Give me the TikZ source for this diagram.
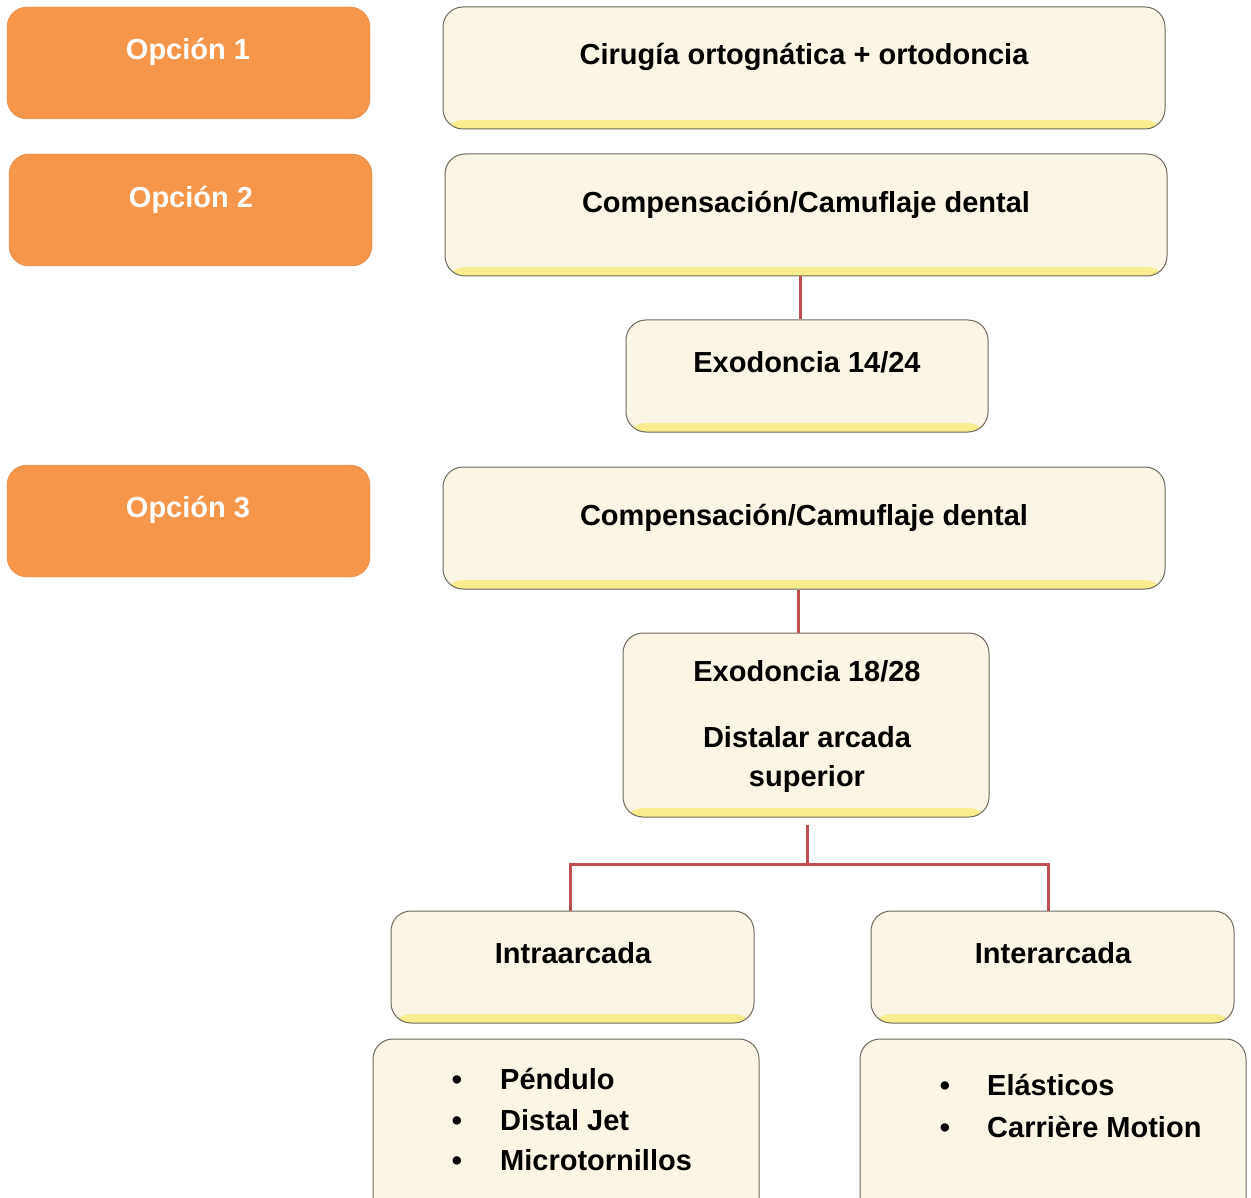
\documentclass[tikz,border=0pt]{standalone}
\usepackage{fontspec}
\setmainfont{Liberation Sans}
\definecolor{orangebox}{HTML}{F6964A}
\definecolor{cream}{HTML}{FBF5E6}
\definecolor{glow}{HTML}{F8EC8A}
\definecolor{edge}{HTML}{6E6A5E}
\definecolor{link}{HTML}{C0504D}
\tikzset{
  obox/.style={rounded corners=20pt, fill=orangebox, draw=orangebox!90!black, line width=0.4pt, inner sep=0pt},
  cbox/.style={rounded corners=20pt, fill=cream, draw=edge, line width=1pt, inner sep=0pt,
    path picture={\shade[top color=cream, bottom color=glow]
      ([yshift=9pt]path picture bounding box.south west) rectangle (path picture bounding box.south east);}},
  lbl/.style={anchor=base, inner sep=0pt, font=\bfseries\fontsize{29}{39}\selectfont, text=black},
  wlbl/.style={lbl, text=white},
  llbl/.style={lbl, anchor=base west},
  blbl/.style={lbl},
  link/.style={draw=link, line width=3pt}
}
\begin{document}
\begin{tikzpicture}[x=1pt,y=-1pt]
\useasboundingbox (0,0) rectangle (1251,1198);
\clip (0,0) rectangle (1251,1198);
% orange option boxes
\node[obox, minimum width=363pt, minimum height=112pt] (o1) at (188.5,63) {};
\node[obox, minimum width=363pt, minimum height=112pt] (o2) at (190.5,210) {};
\node[obox, minimum width=363pt, minimum height=112pt] (o3) at (188.5,521) {};
\node[wlbl] (to1) at (188,60) {Opción 1};
\node[wlbl] (to2) at (191,207.5) {Opción 2};
\node[wlbl] (to3) at (188,517.5) {Opción 3};
% cream boxes
\node[cbox, minimum width=722pt, minimum height=122pt] (cir) at (804,68) {};
\node[cbox, minimum width=722pt, minimum height=122pt] (c1) at (806,215) {};
\node[cbox, minimum width=362pt, minimum height=112pt] (e14) at (807,376) {};
\node[cbox, minimum width=722pt, minimum height=122pt] (c2) at (804,528) {};
\node[cbox, minimum width=366pt, minimum height=184pt] (e18) at (806,725) {};
\node[cbox, minimum width=363pt, minimum height=112pt] (intra) at (572.5,967) {};
\node[cbox, minimum width=363pt, minimum height=112pt] (inter) at (1052.5,967) {};
\node[cbox, minimum width=386pt, minimum height=180pt] (lL) at (566,1129) {};
\node[cbox, minimum width=386pt, minimum height=180pt] (lR) at (1053,1129) {};
% texts
\node[lbl] (tcir) at (804,65) {Cirugía ortognática + ortodoncia};
\node[lbl] (tc1) at (806,212.5) {Compensación/Camuflaje dental};
\node[lbl] (te14) at (807,372.5) {Exodoncia 14/24};
\node[lbl] (tc2) at (804,525.5) {Compensación/Camuflaje dental};
\node[lbl] (te18) at (807,681.5) {Exodoncia 18/28};
\node[lbl] (te18b) at (807,747.5) {Distalar arcada};
\node[lbl] (te18c) at (807,786.5) {superior};
\node[lbl] (tintra) at (573,963.5) {Intraarcada};
\node[lbl] (tinter) at (1053,963.5) {Interarcada};
% lists
\node[blbl] (bl1) at (457,1089) {•};
\node[blbl] (bl2) at (457,1130) {•};
\node[blbl] (bl3) at (457,1170) {•};
\node[llbl] (il1) at (500,1089) {Péndulo};
\node[llbl] (il2) at (500,1130) {Distal Jet};
\node[llbl] (il3) at (500,1170) {Microtornillos};
\node[blbl] (br1) at (945,1095) {•};
\node[blbl] (br2) at (945,1137) {•};
\node[llbl] (ir1) at (987,1095) {Elásticos};
\node[llbl] (ir2) at (987,1137) {Carrière Motion};
% connectors
\draw[link] ([xshift=-6pt]c1.south) -- ([xshift=-7pt]e14.north);
\draw[link] ([xshift=-6pt]c2.south) -- ([xshift=-8pt]e18.north);
\coordinate (j) at (807,864);
\draw[link] ([xshift=1pt,yshift=-7pt]e18.south) -- (j);
\draw[link] ([xshift=-2.5pt]intra.north) |- (j) -| ([xshift=-4.5pt]inter.north);
\end{tikzpicture}
\end{document}
